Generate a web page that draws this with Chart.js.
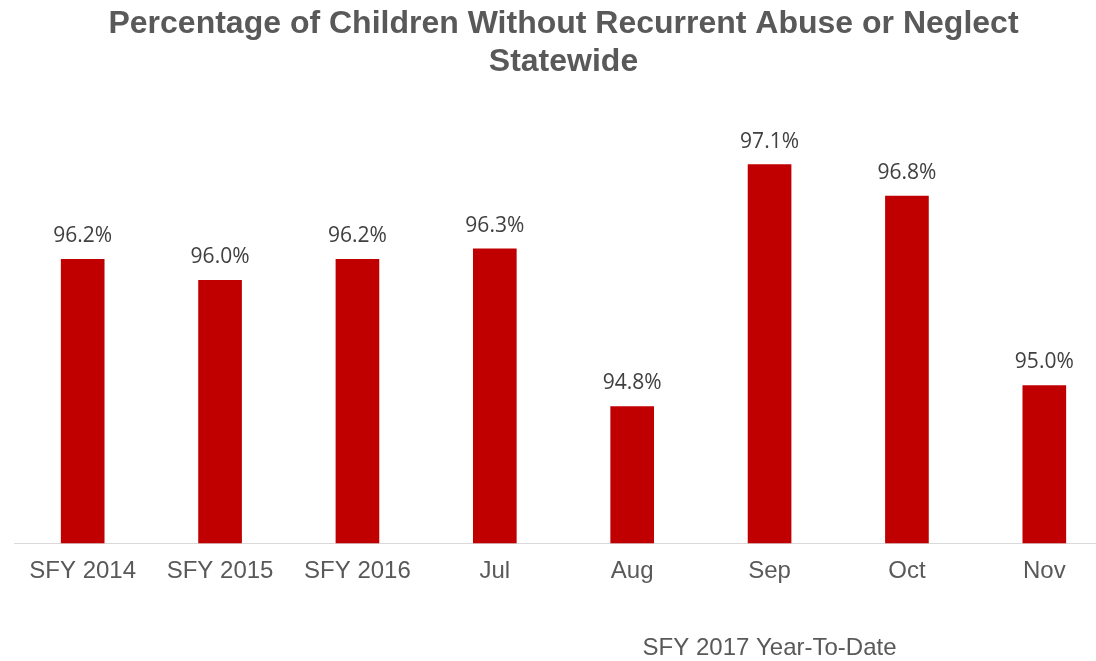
<!DOCTYPE html>
<html>
<head>
<meta charset="utf-8">
<script src="https://cdn.jsdelivr.net/npm/chart.js@4/dist/chart.umd.min.js"></script>
<style>
  html, body { margin: 0; padding: 0; background: #fff; overflow: hidden; }
  #wrap { position: relative; width: 1120px; height: 661px; }
</style>
</head>
<body>
<div id="wrap"><canvas id="chart"></canvas></div>
<script>
// chart values
const categories = ['SFY 2014', 'SFY 2015', 'SFY 2016', 'Jul', 'Aug', 'Sep', 'Oct', 'Nov'];
const percentValues = [96.2, 96.0, 96.2, 96.3, 94.8, 97.1, 96.8, 95.0];
const titleLines = ['Percentage of Children Without Recurrent Abuse or Neglect', 'Statewide'];
const groupNote = 'SFY 2017 Year-To-Date';
const noteFrom = 3, noteTo = 7; // Jul..Nov

// value labels over bars
const barLabels = {
    id: 'barLabels',
    afterDatasetsDraw(chart){
        const ctx = chart.ctx;
        const meta = chart.getDatasetMeta(0);
        ctx.save();
        ctx.font = '21px "Open Sans", sans-serif';
        ctx.fillStyle = '#404040';
        ctx.textAlign = 'center';
        ctx.textBaseline = 'alphabetic';
        meta.data.forEach((bar, i) => {
            ctx.fillText(percentValues[i].toFixed(1) + '%', bar.x, bar.y - 17);
        });
        ctx.restore();
    }
};

// the "SFY 2017 Year-To-Date" note under the monthly bars
const groupLabel = {
    id: 'groupLabel',
    afterDraw(chart){
        const xs = chart.scales.x;
        const cx = (xs.getPixelForValue(noteFrom) + xs.getPixelForValue(noteTo)) / 2;
        const ctx = chart.ctx;
        ctx.save();
        ctx.font = '24px "Liberation Sans", Arial, sans-serif';
        ctx.fillStyle = '#595959';
        ctx.textAlign = 'center';
        ctx.textBaseline = 'middle';
        ctx.fillText(groupNote, cx, 648);
        ctx.restore();
    }
};

const chart = new Chart(document.getElementById('chart'), {
    type: 'bar',
    data: {
        labels: categories,
        datasets: [{
            data: percentValues,
            backgroundColor: '#c00000',
            borderWidth: 0,
            barThickness: 43
        }]
    },
    options: {
        responsive: true,
        maintainAspectRatio: false,
        animation: false,
        layout: { padding: { left: 14, right: 7, top: 0, bottom: 61 } },
        plugins: {
            legend: { display: false },
            tooltip: { enabled: false },
            title: {
                display: true,
                text: titleLines,
                color: '#595959',
                font: { family: '"Liberation Sans", Arial, sans-serif', size: 32, weight: 'bold', lineHeight: 38 / 32 },
                padding: { top: 5, bottom: 10 }
            }
        },
        scales: {
            x: {
                grid: { display: false, drawTicks: false },
                border: { display: true, color: '#d9d9d9', width: 1 },
                ticks: {
                    color: '#595959',
                    padding: 14,
                    font: { family: '"Liberation Sans", Arial, sans-serif', size: 24 }
                }
            },
            y: {
                display: false,
                min: 93.5,
                max: 97.8
            }
        }
    },
    plugins: [barLabels, groupLabel]
});
</script>
</body>
</html>
